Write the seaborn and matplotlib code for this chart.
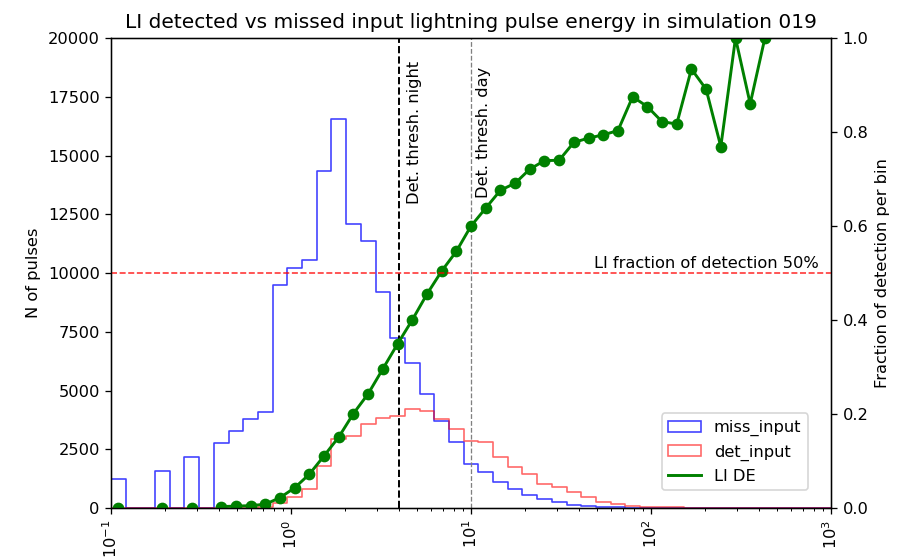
import numpy as np
import pandas as pd
import matplotlib
matplotlib.use("Agg")
import matplotlib.pyplot as plt
import seaborn as sns
from matplotlib.patches import Patch
from matplotlib.lines import Line2D

# Energy bins: edges np.logspace(-1, 3, 50) -> 49 log-spaced bins (log10 units here)
log_start, log_stop, n_bins = -1.0, 3.0, 49

# Number of input pulses per bin that LI missed
miss_input = [1230, 0, 0, 1580, 0, 2190, 0, 2760, 3280, 3780,
              4090, 9510, 10220, 10570, 14350, 16550, 12090, 11350, 9190, 7250,
              6190, 4840, 3710, 2790, 1870, 1520, 1100, 810, 560, 390,
              250, 140, 70, 40, 25, 15, 10, 6, 4, 3,
              2, 1, 0, 1, 0, 0, 0, 0, 0]

# Number of input pulses per bin that LI detected
det_input = [0, 0, 0, 0, 0, 0, 0, 8, 12, 18,
             30, 210, 450, 820, 1800, 2930, 3070, 3570, 3850, 3920,
             4200, 4130, 3780, 3350, 2860, 2790, 2180, 1740, 1440, 1040,
             880, 670, 450, 250, 170, 100, 60, 35, 22, 14,
             9, 5, 3, 2, 1, 0, 0, 0, 0]

# Detection efficiency per bin (NaN where the bin is empty)
nan = np.nan
li_de = [0.0, nan, nan, 0.0, nan, 0.0, nan, 0.003, 0.004, 0.005,
         0.008, 0.022, 0.043, 0.072, 0.111, 0.151, 0.201, 0.243, 0.296, 0.349,
         0.400, 0.455, 0.504, 0.546, 0.600, 0.638, 0.676, 0.691, 0.721, 0.739,
         0.740, 0.778, 0.787, 0.794, 0.803, 0.875, 0.854, 0.822, 0.817, 0.934,
         0.891, 0.769, 1.0, 0.860, 1.0, nan, nan, nan, nan]

thresh_night = 4.0
thresh_day = 10.0

log_edges = np.linspace(log_start, log_stop, n_bins + 1)
bin_w = (log_stop - log_start) / n_bins
centers = 10 ** ((log_edges[:-1] + log_edges[1:]) / 2)

hist_df = pd.DataFrame({"energy": centers,
                        "miss": np.asarray(miss_input, dtype=float),
                        "det": np.asarray(det_input, dtype=float)})

fig, ax = plt.subplots(figsize=(913 / 117, 558 / 117), dpi=117)
fig.subplots_adjust(left=0.1216, right=0.9102, top=0.9319, bottom=0.0896)

sns.histplot(data=hist_df, x="energy", weights="miss", binwidth=bin_w,
             binrange=(log_start, log_stop), log_scale=True,
             element="step", fill=False, color="blue", alpha=0.75, lw=1.0, ax=ax)
sns.histplot(data=hist_df, x="energy", weights="det", binwidth=bin_w,
             binrange=(log_start, log_stop), log_scale=True,
             element="step", fill=False, color="red", alpha=0.6, lw=1.0, ax=ax)

ax.axvline(thresh_night, color="black", ls="--", lw=1.2)
ax.axvline(thresh_day, color="gray", ls="--", lw=0.8)
ax.text(thresh_night * 1.1, 16000, "Det. thresh. night", rotation=90,
        ha="left", va="center")
ax.text(thresh_day * 1.07, 16000, "Det. thresh. day", rotation=90,
        ha="left", va="center")

ax.set_xlim(0.1, 1000)
ax.set_ylim(0, 20000)
ax.set_yticks(np.arange(0, 20001, 2500))
ax.tick_params(axis="x", labelrotation=90)
ax.set_xlabel("")
ax.set_ylabel("N of pulses")
ax.set_title("LI detected vs missed input lightning pulse energy in simulation 019",
             fontsize=12.4)

ax2 = ax.twinx()
df = pd.DataFrame({"energy": centers, "de": li_de})
df["seg"] = df["de"].isna().cumsum()
df = df.dropna()
sns.lineplot(data=df, x="energy", y="de", units="seg", estimator=None,
             color="green", lw=1.8, marker="o", markersize=6.2, mec="green",
             mew=1, ax=ax2, legend=False)
ax2.axhline(0.5, color="red", ls="--", lw=1, alpha=0.8)
ax2.text(860, 0.505, "LI fraction of detection 50%", ha="right", va="bottom")
ax2.set_ylim(0, 1.0)
ax2.set_yticks(np.arange(0, 1.01, 0.2))
ax2.set_xlabel("")
ax2.set_ylabel("Fraction of detection per bin")
ax2.set_xlim(0.1, 1000)

handles = [Patch(facecolor="none", edgecolor="blue", alpha=0.75),
           Patch(facecolor="none", edgecolor="red", alpha=0.6),
           Line2D([], [], color="green", lw=1.8)]
ax2.legend(handles, ["miss_input", "det_input", "LI DE"], loc="lower right",
           bbox_to_anchor=(0.968, 0.038), borderaxespad=0)

fig.savefig("out.png", dpi=117)
